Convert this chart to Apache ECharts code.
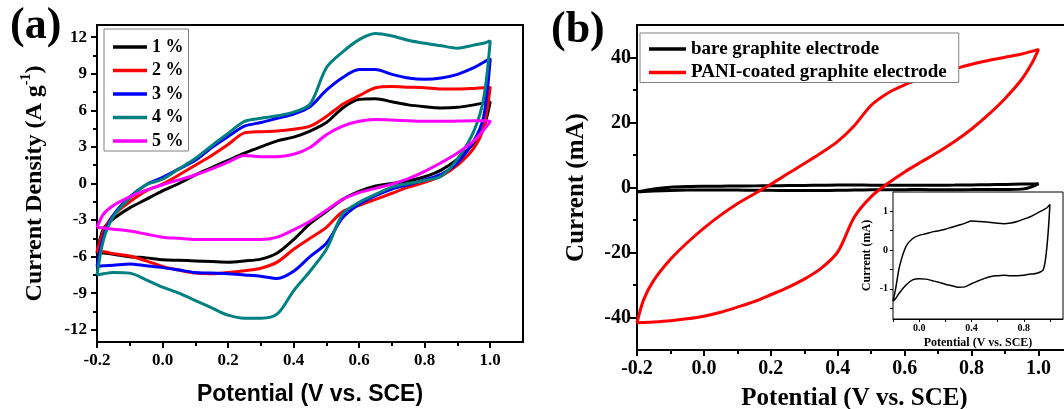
<!DOCTYPE html>
<html>
<head>
<meta charset="utf-8">
<script src="https://cdn.jsdelivr.net/npm/echarts@6/dist/echarts.min.js"></script>
<style>
html, body { margin: 0; padding: 0; background: #fff; }
#main { width: 1064px; height: 409px; }
</style>
</head>
<body>
<div id="main"></div>
<script>
// potential grid (V vs. SCE) shared by every sweep
var potential = [-0.2, -0.18, -0.15, -0.1, -0.05, 0, 0.05, 0.1, 0.15, 0.2, 0.25, 0.3, 0.35, 0.4, 0.45, 0.5, 0.55, 0.6, 0.65, 0.7, 0.75, 0.8, 0.85, 0.9, 0.95, 0.98, 1.0];

// (a) current density, A/g  -- anodic = forward sweep, cathodic = return sweep
var anodic1 = [-5.7, -3.7, -2.9, -2.0, -1.3, -0.6, 0.0, 0.7, 1.3, 1.9, 2.5, 3.0, 3.5, 3.8, 4.3, 5.0, 6.2, 6.9, 6.95, 6.7, 6.45, 6.3, 6.2, 6.25, 6.45, 6.6, 6.7];
var cathodic1 = [-5.65, -5.7, -5.8, -6.0, -6.1, -6.25, -6.3, -6.35, -6.4, -6.45, -6.35, -6.2, -5.7, -4.6, -3.3, -2.3, -1.3, -0.65, -0.2, 0.0, 0.2, 0.55, 1.1, 2.0, 3.3, 4.6, 6.7];
var anodic2 = [-5.6, -3.9, -2.6, -1.5, -0.6, -0.05, 0.7, 1.5, 2.3, 3.2, 4.15, 4.25, 4.3, 4.45, 4.7, 5.5, 6.5, 7.2, 7.85, 7.95, 7.9, 7.85, 7.75, 7.75, 7.8, 7.85, 7.9];
var cathodic2 = [-5.6, -5.6, -5.75, -5.95, -6.35, -6.8, -7.1, -7.35, -7.4, -7.3, -7.15, -6.95, -6.45, -5.4, -4.5, -3.6, -2.3, -1.8, -1.3, -0.8, -0.3, 0.1, 0.6, 1.5, 2.9, 4.6, 7.9];
var anodic3 = [-6.8, -4.3, -2.6, -1.1, -0.1, 0.5, 1.2, 1.9, 2.95, 3.85, 4.7, 5.0, 5.35, 5.7, 6.3, 7.65, 8.7, 9.35, 9.35, 8.95, 8.65, 8.55, 8.65, 8.95, 9.5, 9.95, 10.25];
var cathodic3 = [-6.8, -6.75, -6.7, -6.6, -6.75, -6.9, -7.1, -7.3, -7.35, -7.4, -7.5, -7.6, -7.8, -7.2, -6.0, -4.9, -2.8, -1.7, -1.0, -0.45, -0.1, 0.3, 0.75, 1.7, 3.5, 5.5, 10.25];
var anodic4 = [-7.5, -4.6, -2.7, -1.2, -0.1, 0.35, 1.2, 2.05, 3.1, 4.1, 5.1, 5.35, 5.55, 5.85, 6.5, 9.5, 10.8, 11.8, 12.3, 12.1, 11.75, 11.5, 11.3, 11.1, 11.35, 11.5, 11.7];
var cathodic4 = [-7.5, -7.4, -7.3, -7.35, -7.9, -8.5, -9.0, -9.6, -10.2, -10.8, -11.05, -11.05, -10.7, -8.8, -7.2, -5.4, -2.5, -1.55, -0.9, -0.3, 0.0, 0.25, 0.6, 2.0, 4.3, 7.0, 11.7];
var anodic5 = [-3.6, -2.5, -1.8, -1.1, -0.55, -0.1, 0.3, 0.7, 1.2, 1.75, 2.3, 2.2, 2.2, 2.4, 2.95, 4.0, 4.7, 5.1, 5.25, 5.2, 5.15, 5.1, 5.1, 5.12, 5.15, 5.15, 5.1];
var cathodic5 = [-3.6, -3.65, -3.75, -3.9, -4.15, -4.4, -4.5, -4.6, -4.6, -4.6, -4.6, -4.6, -4.4, -3.8, -3.1, -2.2, -1.3, -0.75, -0.4, -0.05, 0.4, 1.0, 1.7, 2.5, 3.5, 4.4, 5.1];

// (b) current, mA
var paniAnodic = [-41.6, -34.5, -28.6, -22.1, -17.0, -12.5, -8.5, -5.0, -2.0, 1.0, 4.2, 7.4, 10.6, 14.2, 19.1, 25.3, 29.1, 31.6, 33.5, 35.1, 36.5, 37.9, 39.1, 40.1, 41.1, 41.9, 42.5];
var paniCathodic = [-41.6, -41.55, -41.4, -41.0, -40.4, -39.6, -38.4, -36.8, -35.1, -33.0, -30.8, -28.2, -24.9, -19.8, -9.0, -2.8, 1.3, 4.8, 7.9, 10.9, 14.2, 18.0, 22.4, 27.4, 33.3, 38.2, 42.5];
var bareAnodic = [-1.32, -1.0, -0.42, 0.1, 0.3, 0.38, 0.42, 0.47, 0.5, 0.54, 0.59, 0.64, 0.69, 0.75, 0.74, 0.73, 0.71, 0.69, 0.68, 0.7, 0.74, 0.8, 0.86, 0.95, 1.04, 1.1, 1.18];
var bareCathodic = [-1.32, -1.25, -1.1, -0.9, -0.77, -0.74, -0.75, -0.79, -0.83, -0.88, -0.92, -0.96, -0.95, -0.87, -0.8, -0.73, -0.68, -0.66, -0.65, -0.66, -0.66, -0.65, -0.62, -0.6, -0.5, 0.2, 1.18];

// tick labels
var xTicks = [-0.2, 0, 0.2, 0.4, 0.6, 0.8, 1.0];
var xMinor = [-0.1, 0.1, 0.3, 0.5, 0.7, 0.9];
var yTicksA = [-12, -9, -6, -3, 0, 3, 6, 9, 12];
var yMinorA = [-10.5, -7.5, -4.5, -1.5, 1.5, 4.5, 7.5, 10.5];
var yTicksB = [-40, -20, 0, 20, 40];
var yMinorB = [-30, -10, 10, 30];
var xLabelsInset = [0, 0.4, 0.8];
var yTicksInset = [-1.5, -1, -0.5, 0, 0.5, 1];
var yLabelsInset = [-1, 0, 1];

var legendA = ['1 %', '2 %', '3 %', '4 %', '5 %'];
var legendB = ['bare graphite electrode', 'PANI-coated graphite electrode'];

// forward sweep then return sweep -> closed loop
function loop(up, down) {
    var pts = [];
    for (var i = 0; i < potential.length; i++) {
        pts.push([potential[i], up[i]]);
    }
    for (var j = potential.length - 2; j >= 0; j--) {
        pts.push([potential[j], down[j]]);
    }
    return pts;
}

var serif = "'Liberation Serif', 'Times New Roman', serif";
var sans = "'Liberation Sans', Arial, sans-serif";

function fmt1(v) {
    return (Math.abs(v) < 1e-9 ? 0 : v).toFixed(1);
}

function mainX(grid, size, margin, name, nameFont, nameSize, nameGap) {
    return {
        type: 'value', gridIndex: grid, min: -0.2, max: 1.1, position: 'bottom',
        axisLine: { onZero: false, lineStyle: { color: '#000', width: 2 } },
        axisTick: { customValues: xTicks, length: 6, lineStyle: { color: '#000', width: 2 } },
        axisLabel: { customValues: xTicks, formatter: fmt1, color: '#000', fontFamily: serif, fontWeight: 'bold', fontSize: size, margin: margin },
        splitLine: { show: false },
        name: name, nameLocation: 'middle', nameGap: nameGap,
        nameTextStyle: { color: '#000', fontFamily: nameFont, fontWeight: 'bold', fontSize: nameSize }
    };
}

function minorX(grid) {
    return {
        type: 'value', gridIndex: grid, min: -0.2, max: 1.1, position: 'bottom',
        axisLine: { show: false, onZero: false },
        axisTick: { customValues: xMinor, length: 4, lineStyle: { color: '#000', width: 2 } },
        axisLabel: { show: false },
        splitLine: { show: false }
    };
}

function minorY(grid, min, max, ticks) {
    return {
        type: 'value', gridIndex: grid, min: min, max: max, position: 'left',
        axisLine: { show: false, onZero: false },
        axisTick: { customValues: ticks, length: 4, lineStyle: { color: '#000', width: 2 } },
        axisLabel: { show: false },
        splitLine: { show: false }
    };
}

var chart = echarts.init(document.getElementById('main'));
chart.setOption({
    animation: false,
    backgroundColor: '#fff',
    graphic: [
        { type: 'text', left: 10, top: 5, style: { text: '(a)', fill: '#000', fontFamily: serif, fontWeight: 'bold', fontSize: 44 } },
        { type: 'text', left: 551, top: 9, style: { text: '(b)', fill: '#000', fontFamily: serif, fontWeight: 'bold', fontSize: 44 } }
    ],
    grid: [
        { left: 97, top: 25, right: 541, bottom: 67, outerBoundsMode: 'none', show: true, borderColor: '#000', borderWidth: 2, backgroundColor: '#fff' },
        { left: 637, top: 25, right: -8, bottom: 59, outerBoundsMode: 'none', show: true, borderColor: '#000', borderWidth: 2, backgroundColor: '#fff' },
        { left: 893, top: 192, right: 1, bottom: 90, outerBoundsMode: 'none', show: true, borderColor: '#000', borderWidth: 1, backgroundColor: '#fff', z: 3 }
    ],
    legend: [
        {
            data: legendA, orient: 'vertical', left: 104, top: 29,
            icon: 'rect', itemWidth: 34, itemHeight: 3.5, itemGap: 3.5,
            padding: [8, 5, 0, 9], borderColor: '#808080', borderWidth: 1, backgroundColor: '#fff',
            textStyle: { color: '#000', fontFamily: serif, fontWeight: 'bold', fontSize: 18, lineHeight: 20 }
        },
        {
            data: legendB, orient: 'vertical', left: 640, top: 33,
            icon: 'rect', itemWidth: 37, itemHeight: 3.5, itemGap: 3.5,
            padding: [6, 12, 0, 9], borderColor: '#808080', borderWidth: 1, backgroundColor: '#fff',
            textStyle: { color: '#000', fontFamily: serif, fontWeight: 'bold', fontSize: 19, lineHeight: 20 }
        }
    ],
    xAxis: [
        mainX(0, 17, 10, 'Potential (V vs. SCE)', sans, 23, 41),
        minorX(0),
        mainX(1, 20, 9, 'Potential (V vs. SCE)', serif, 25, 36),
        minorX(1),
        {
            type: 'value', gridIndex: 2, min: -0.2, max: 1.1, position: 'bottom',
            axisLine: { onZero: false, lineStyle: { color: '#000', width: 1 } },
            axisTick: { customValues: xTicks, length: 3, lineStyle: { color: '#000', width: 1 } },
            axisLabel: { customValues: xLabelsInset, formatter: fmt1, color: '#000', fontFamily: serif, fontWeight: 'bold', fontSize: 10, margin: 4 },
            splitLine: { show: false },
            name: 'Potential (V vs. SCE)', nameLocation: 'middle', nameGap: 18,
            nameTextStyle: { color: '#000', fontFamily: serif, fontWeight: 'bold', fontSize: 12 }
        }
    ],
    yAxis: [
        {
            type: 'value', gridIndex: 0, min: -13, max: 13, position: 'left',
            axisLine: { onZero: false, lineStyle: { color: '#000', width: 2 } },
            axisTick: { customValues: yTicksA, length: 6, lineStyle: { color: '#000', width: 2 } },
            axisLabel: { customValues: yTicksA, color: '#000', fontFamily: serif, fontWeight: 'bold', fontSize: 17, margin: 10 },
            splitLine: { show: false },
            name: '{t|Current Density (A g}{s|-1}{t|)}', nameLocation: 'middle', nameGap: 50,
            nameTextStyle: {
                rich: {
                    t: { color: '#000', fontFamily: serif, fontWeight: 'bold', fontSize: 24, lineHeight: 28, verticalAlign: 'bottom' },
                    s: { color: '#000', fontFamily: serif, fontWeight: 'bold', fontSize: 14, lineHeight: 14, verticalAlign: 'top' }
                }
            }
        },
        minorY(0, -13, 13, yMinorA),
        {
            type: 'value', gridIndex: 1, min: -50, max: 50, position: 'left',
            axisLine: { onZero: false, lineStyle: { color: '#000', width: 2 } },
            axisTick: { customValues: yTicksB, length: 7, lineStyle: { color: '#000', width: 2 } },
            axisLabel: { customValues: yTicksB, color: '#000', fontFamily: serif, fontWeight: 'bold', fontSize: 20, margin: 6 },
            splitLine: { show: false },
            name: 'Current (mA)', nameLocation: 'middle', nameGap: 48,
            nameTextStyle: { color: '#000', fontFamily: serif, fontWeight: 'bold', fontSize: 25 }
        },
        minorY(1, -50, 50, yMinorB),
        {
            type: 'value', gridIndex: 2, min: -1.78, max: 1.5, position: 'left',
            axisLine: { onZero: false, lineStyle: { color: '#000', width: 1 } },
            axisTick: { customValues: yTicksInset, length: 3, lineStyle: { color: '#000', width: 1 } },
            axisLabel: { customValues: yLabelsInset, color: '#000', fontFamily: serif, fontWeight: 'bold', fontSize: 10, margin: 5 },
            splitLine: { show: false },
            name: 'Current (mA)', nameLocation: 'middle', nameGap: 20,
            nameTextStyle: { color: '#000', fontFamily: serif, fontWeight: 'bold', fontSize: 12 }
        }
    ],
    series: [
        { name: '1 %', type: 'line', xAxisIndex: 0, yAxisIndex: 0, data: loop(anodic1, cathodic1), smooth: 0.3, symbol: 'none', color: '#000000', lineStyle: { width: 3 } },
        { name: '2 %', type: 'line', xAxisIndex: 0, yAxisIndex: 0, data: loop(anodic2, cathodic2), smooth: 0.3, symbol: 'none', color: '#ff0000', lineStyle: { width: 3 } },
        { name: '3 %', type: 'line', xAxisIndex: 0, yAxisIndex: 0, data: loop(anodic3, cathodic3), smooth: 0.3, symbol: 'none', color: '#0000ff', lineStyle: { width: 3 } },
        { name: '4 %', type: 'line', xAxisIndex: 0, yAxisIndex: 0, data: loop(anodic4, cathodic4), smooth: 0.3, symbol: 'none', color: '#008080', lineStyle: { width: 3 } },
        { name: '5 %', type: 'line', xAxisIndex: 0, yAxisIndex: 0, data: loop(anodic5, cathodic5), smooth: 0.3, symbol: 'none', color: '#ff00ff', lineStyle: { width: 3 } },
        { name: 'bare graphite electrode', type: 'line', xAxisIndex: 2, yAxisIndex: 2, data: loop(bareAnodic, bareCathodic), smooth: 0.3, symbol: 'none', color: '#000000', lineStyle: { width: 3 } },
        { name: 'PANI-coated graphite electrode', type: 'line', xAxisIndex: 2, yAxisIndex: 2, data: loop(paniAnodic, paniCathodic), smooth: 0.3, symbol: 'none', color: '#ff0000', lineStyle: { width: 3 } },
        { name: 'inset', type: 'line', xAxisIndex: 4, yAxisIndex: 4, data: loop(bareAnodic, bareCathodic), smooth: 0.3, symbol: 'none', color: '#000000', lineStyle: { width: 1.5 }, z: 4 }
    ]
});
</script>
</body>
</html>
